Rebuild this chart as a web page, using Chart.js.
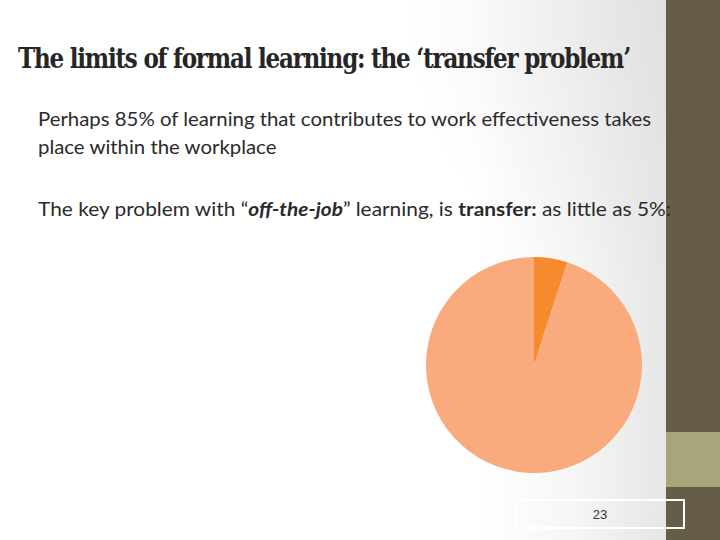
<!DOCTYPE html>
<html><head><meta charset="utf-8">
<script src="https://cdn.jsdelivr.net/npm/chart.js@4"></script>
<style>
html,body{margin:0;padding:0;width:720px;height:540px;overflow:hidden;background:#fff;}
#bg{position:absolute;left:0;top:0;width:666px;height:540px;background:radial-gradient(ellipse 260px 300px at 666px 0px,rgba(220,220,220,0.55),rgba(255,255,255,0)),linear-gradient(to right,#ffffff 0%,#ffffff 72%,#f6f6f6 86%,#e6e6e6 100%);}
#bar{position:absolute;left:666px;top:0;width:54px;height:540px;background:#655D48;}
#bar2{position:absolute;left:666px;top:432px;width:54px;height:55px;background:#A8A57D;}
.t{position:absolute;white-space:nowrap;transform-origin:0 0;}
#title{left:18px;top:42px;font-family:"DejaVu Serif","Liberation Serif",serif;font-weight:bold;font-size:28px;letter-spacing:-1.5px;color:#262626;}
.body{font-family:"Lato","Open Sans",sans-serif;font-size:19px;color:#2a2a2a;left:38px;}
#pbox{position:absolute;left:515px;top:499px;width:166px;height:26px;border:2px solid #fff;}
#pnum{position:absolute;left:515px;top:507px;width:170px;text-align:center;font-family:"Liberation Sans",sans-serif;font-size:13px;color:#333;}
#wrap{position:absolute;left:426px;top:257px;width:216px;height:216px;}
</style></head>
<body>
<div id="bg"></div>
<div id="bar"></div><div id="bar2"></div>
<div class="t" id="title" data-w="612">The limits of formal learning: the ‘transfer problem’</div>
<div class="t body" id="l1" style="top:107px" data-w="613">Perhaps 85% of learning that contributes to work effectiveness takes</div>
<div class="t body" id="l2" style="top:135px" data-s="l1">place within the workplace</div>
<div class="t body" id="l3" style="top:197px" data-w="633">The key problem with “<b><i>off-the-job</i></b>” learning, is <b>transfer:</b> as little as 5%:</div>
<div id="pbox"></div>
<div id="pnum">23</div>
<div id="wrap"><canvas id="c" width="216" height="216"></canvas></div>
<script>
const categories = ["Transferred to the job", "Not transferred"];
const values = [5, 95];
const colors = ["#F68A2E", "#F9AB7E"];

// fit text widths
const scales = {};
document.querySelectorAll('.t').forEach(el => {
  if (el.dataset.w) {
    const s = parseFloat(el.dataset.w) / el.getBoundingClientRect().width;
    scales[el.id] = s;
    el.style.transform = 'scaleX(' + s + ')';
  }
});
document.querySelectorAll('.t').forEach(el => {
  if (el.dataset.s) el.style.transform = 'scaleX(' + scales[el.dataset.s] + ')';
});

new Chart(document.getElementById('c'), {
  type: 'pie',
  data: { labels: categories, datasets: [{ data: values, backgroundColor: colors, borderWidth: 0, hoverOffset: 0 }] },
  options: {
    responsive: false, animation: false,
    layout: { padding: 0 },
    plugins: { legend: { display: false }, tooltip: { enabled: false } }
  }
});
</script>
</body></html>
